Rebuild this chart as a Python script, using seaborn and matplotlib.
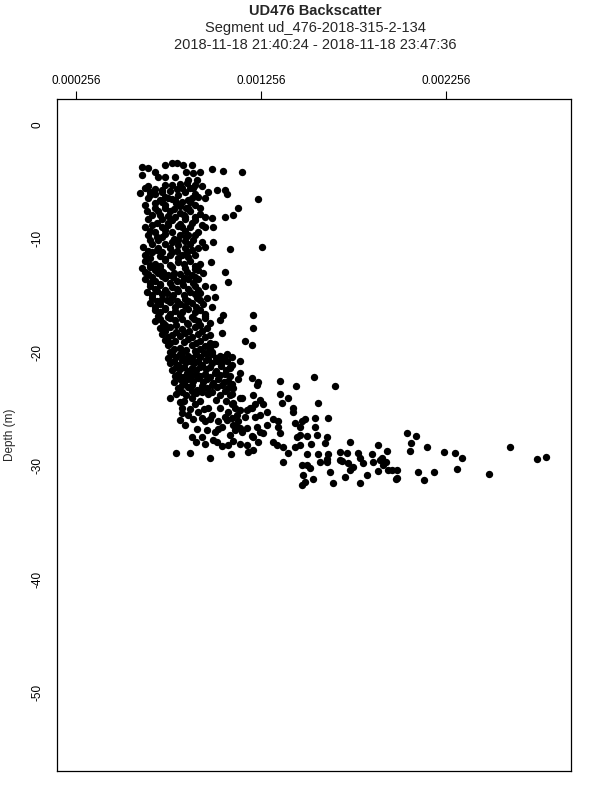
import numpy as np
import pandas as pd
import seaborn as sns
import matplotlib.pyplot as plt

# backscatter, in units of 1e-6; depth in metres (negative = down)

# shallow scattered points
top_bs = [613, 645, 683, 737, 775, 802, 834, 883, 850, 888, 926, 991, 1050, 1153,
          613, 699, 737, 791, 861, 910,
          602, 629, 645, 683, 721, 775, 829, 856, 888, 937, 969, 1018, 1061, 1072,
          645, 683, 753, 791, 829, 883, 915, 953]
top_depth = [-3.7, -3.8, -4.1, -3.5, -3.3, -3.3, -3.5, -3.5, -4.1, -4.2, -4.1, -3.9, -4.0, -4.1,
             -4.4, -4.6, -4.6, -4.6, -4.8, -4.8,
             -6.0, -5.5, -5.4, -6.1, -5.9, -5.3, -5.5, -5.1, -5.5, -5.4, -5.9, -5.7, -5.7, -6.1,
             -6.4, -6.9, -6.4, -6.6, -6.8, -6.4, -6.3, -6.4]

upper_bs = [640, 667, 645, 737, 764, 791, 861, 926, 845, 899, 953, 991, 1061, 1105, 1132,
            667, 683, 694, 753, 775, 829, 937, 953, 996,
            699, 737, 775, 807, 861, 888, 937, 996,
            618, 667, 721, 775, 829, 883, 953, 1088,
            1240, 1262]
upper_depth = [-7.6, -7.9, -8.3, -7.3, -7.6, -8.1, -7.3, -7.3, -8.1, -8.1, -8.1, -8.2, -8.1, -7.9, -7.3,
               -8.8, -9.4, -9.9, -8.8, -9.4, -9.0, -8.8, -9.0, -9.0,
               -10.1, -10.5, -10.3, -10.1, -9.7, -10.1, -10.3, -10.3,
               -10.7, -11.2, -11.2, -11.2, -11.4, -11.0, -10.7, -10.9,
               -6.5, -10.7]

upper_core_bs = [737, 818, 899,
                 656, 764, 845,
                 710, 775, 861,
                 629, 737, 818, 899,
                 699, 818, 872,
                 721, 775, 845, 899,
                 629, 721, 807, 872,
                 645, 737, 818, 899,
                 656, 845,
                 699, 764, 845, 915,
                 629, 710, 764, 899,
                 683, 721, 802, 872,
                 656, 737, 807, 899,
                 721, 797, 872,
                 683, 786, 850,
                 710, 753, 840, 926,
                 694, 753, 818, 883,
                 656, 737, 845, 915,
                 721, 786, 850,
                 667, 807, 872,
                 645, 694, 802, 856,
                 656, 737, 807, 861]
upper_core_depth = [-5.3, -5.2, -5.3,
                    -5.9, -5.8, -5.9,
                    -6.6, -6.5, -6.6,
                    -7.0, -7.0, -7.1, -7.0,
                    -7.6, -7.7, -7.6,
                    -8.3, -8.4, -8.3, -8.4,
                    -9.0, -9.0, -8.9, -9.0,
                    -9.7, -9.6, -9.7, -9.7,
                    -10.1, -10.2,
                    -10.8, -10.8, -10.8, -10.8,
                    -11.4, -11.5, -11.4, -11.4,
                    -5.6, -5.7, -5.6, -5.5,
                    -6.2, -6.3, -6.2, -6.1,
                    -6.8, -6.9, -6.8,
                    -7.3, -7.4, -7.3,
                    -7.9, -8.0, -7.9, -7.8,
                    -8.6, -8.6, -8.7, -8.6,
                    -9.3, -9.2, -9.3, -9.4,
                    -9.9, -10.0, -9.9,
                    -10.5, -10.6, -10.5,
                    -11.1, -11.0, -11.1, -11.2,
                    -11.7, -11.8, -11.7, -11.6]

mid_core_bs = [629, 683, 737, 807, 872, 926,
               613, 656, 710, 775, 845, 899,
               645, 699, 753, 818, 883, 942,
               629, 683, 737, 802, 861, 915,
               656, 710, 775, 834, 899,
               640, 694, 748, 807, 872, 926,
               667, 721, 775, 845, 910,
               656, 710, 764, 818, 883, 942,
               683, 737, 791, 861, 926,
               699, 753, 818, 883, 953,
               683, 726, 791, 856, 915, 980,
               710, 764, 829, 899, 964,
               721, 775, 845, 915, 980,
               737, 791, 861, 926,
               753, 818, 883, 953, 1002,
               764, 829, 899, 964,
               656, 710, 764, 840, 899,
               629, 683, 726, 786, 856, 915,
               667, 721, 780, 840, 899,
               656, 710, 764, 829, 888,
               683, 737, 802, 861, 915,
               667, 721, 780, 840, 899,
               694, 748, 802, 861, 926,
               683, 737, 791, 845, 904,
               710, 764, 829, 899, 953,
               710, 764, 829, 894, 953,
               737, 797, 861, 926,
               737, 797, 867, 937,
               753, 818, 883, 953,
               764, 840, 904, 980,
               786, 850, 926, 980]
mid_core_depth = [-12.0, -12.2, -11.9, -12.1, -12.0, -12.2,
                  -12.6, -12.5, -12.7, -12.5, -12.6, -12.7,
                  -13.1, -13.0, -13.2, -13.1, -13.2, -13.0,
                  -13.6, -13.7, -13.5, -13.7, -13.6, -13.6,
                  -14.2, -14.1, -14.3, -14.1, -14.2,
                  -14.7, -14.6, -14.8, -14.6, -14.7, -14.8,
                  -15.2, -15.3, -15.1, -15.3, -15.2,
                  -15.7, -15.8, -15.6, -15.8, -15.7, -15.8,
                  -16.3, -16.2, -16.4, -16.2, -16.3,
                  -16.8, -16.9, -16.7, -16.9, -16.8,
                  -17.3, -17.4, -17.2, -17.4, -17.3, -17.4,
                  -17.9, -17.8, -18.0, -17.8, -17.9,
                  -18.4, -18.5, -18.3, -18.4, -18.5,
                  -18.9, -19.0, -18.8, -19.0,
                  -19.4, -19.6, -19.4, -19.5, -19.3,
                  -20.0, -20.1, -19.9, -20.1,
                  -12.3, -12.4, -12.3, -12.2, -12.4,
                  -12.9, -12.8, -12.9, -13.0, -12.9, -12.8,
                  -13.4, -13.3, -13.4, -13.5, -13.4,
                  -13.9, -14.0, -13.9, -13.8, -13.9,
                  -14.4, -14.5, -14.4, -14.4, -14.5,
                  -15.0, -14.9, -15.0, -15.0, -14.9,
                  -15.5, -15.4, -15.5, -15.5, -15.4,
                  -16.0, -16.1, -16.0, -15.9, -16.0,
                  -16.5, -16.6, -16.5, -16.5, -16.6,
                  -17.1, -17.0, -17.1, -17.1, -17.0,
                  -17.6, -17.6, -17.5, -17.6,
                  -18.1, -18.2, -18.1, -18.1,
                  -18.7, -18.6, -18.7, -18.7,
                  -19.2, -19.1, -19.2, -19.2,
                  -19.7, -19.8, -19.7, -19.7]

mid_out_bs = [986, 1061, 1077, 953, 996, 964, 1007, 991, 1050, 1034,
              1213, 1213, 1045, 1170, 1207, 1007, 991, 1072, 1099]
mid_out_depth = [-12.1, -12.9, -13.8, -14.2, -14.3, -15.2, -15.1, -16.0, -16.7, -17.2,
                 -16.7, -17.9, -18.3, -19.0, -19.4, -19.3, -20.0, -20.2, -20.4]

low_core_bs = [753, 797, 840, 883, 926, 969, 1012, 1056,
               764, 807, 850, 894, 937, 991, 1045, 1099,
               775, 818, 861, 904, 958, 1012, 1067,
               791, 834, 883, 926, 980, 1034, 1088,
               786, 840, 888, 942, 996, 1056,
               807, 861, 910, 964, 1018, 1077,
               797, 850, 904, 969, 1034, 1099,
               775, 818, 861, 904, 948, 991, 1034,
               786, 829, 872, 915, 958, 1018, 1072,
               797, 840, 883, 926, 980, 1039, 1088,
               807, 856, 904, 953, 1007, 1061,
               818, 861, 915, 964, 1023, 1077,
               829, 883, 937, 991, 1045, 1099,
               829, 883, 937, 991, 1061]
low_core_depth = [-20.5, -20.4, -20.6, -20.5, -20.4, -20.6, -20.5, -20.4,
                  -21.0, -21.1, -20.9, -21.0, -21.1, -21.0, -20.9, -21.1,
                  -21.6, -21.5, -21.7, -21.6, -21.5, -21.7, -21.6,
                  -22.1, -22.2, -22.0, -22.1, -22.2, -22.0, -22.1,
                  -22.6, -22.7, -22.5, -22.6, -22.7, -22.6,
                  -23.2, -23.1, -23.3, -23.2, -23.1, -23.2,
                  -23.7, -23.8, -23.6, -23.7, -23.8, -23.7,
                  -20.2, -20.2, -20.3, -20.2, -20.1, -20.2, -20.3,
                  -20.8, -20.7, -20.8, -20.8, -20.7, -20.8, -20.8,
                  -21.3, -21.3, -21.4, -21.3, -21.3, -21.2, -21.3,
                  -21.9, -21.8, -21.9, -21.9, -21.8, -21.9,
                  -22.4, -22.4, -22.3, -22.4, -22.4, -22.5,
                  -22.9, -22.9, -23.0, -22.9, -22.9, -22.8,
                  -23.5, -23.4, -23.5, -23.5, -23.4]

low_bs = [764, 818, 829, 829, 883, 899, 915, 937, 953, 969,
          991, 1023, 1045, 1061, 1077, 1099, 1115, 1153, 1197, 1170,
          1132, 1126, 845, 910, 937, 883, 996, 1045, 1077, 1142,
          1180, 1207, 797, 872, 980, 1094, 1186,
          1142, 1142, 1132, 1207,
          861, 1007, 1088, 953, 1153, 818,
          840, 926, 1012, 1067,
          872, 948, 1034, 1142,
          888, 980, 1072, 1099,
          964, 1023, 1115,
          904, 1018, 1105]
low_depth = [-24.0, -24.4, -24.9, -25.4, -24.0, -24.6, -25.3, -25.8, -26.1, -24.9,
             -25.5, -26.1, -26.6, -25.7, -25.3, -24.6, -24.9, -24.0, -24.9, -25.7,
             -26.1, -26.6, -26.4, -26.8, -27.5, -27.5, -27.7, -28.3, -28.2, -28.1,
             -26.7, -27.4, -28.9, -28.9, -29.3, -29.0, -28.8,
             -20.8, -21.8, -22.4, -22.3,
             -25.5, -27.0, -27.3, -28.1, -27.0, -26.0,
             -24.3, -24.3, -24.2, -24.3,
             -25.0, -25.0, -24.9, -25.1,
             -25.9, -25.9, -26.0, -25.8,
             -26.9, -26.8, -26.9,
             -27.9, -27.9, -27.8]

bend_bs = [1088, 1240, 1235, 1359, 1445, 1543, 1656,
           1105, 1142, 1105, 1088, 1213, 1251, 1224, 1267, 1289,
           1359, 1402, 1370, 1429, 1429, 1564,
           1126, 1207, 1180, 1224, 1251,
           1105, 1142, 1321, 1348, 1289, 1235, 1251, 1267, 1213, 1240, 1180, 1213,
           1348, 1359, 1321, 1343, 1375, 1402,
           1440, 1467, 1478, 1494, 1548, 1548,
           1451, 1467, 1505, 1467, 1440, 1527, 1559, 1618, 1613, 1602,
           1375, 1505, 1478, 1505, 1483, 1494, 1537, 1521, 1564, 1618, 1575, 1613, 1629, 1645, 1710,
           1683, 1721, 1694, 1726, 1737, 1737, 1780, 1791, 1807, 1829, 1856, 1861, 1888, 1791, 1888,
           1937, 1899, 1915, 1964, 1991, 1991]
bend_depth = [-21.4, -22.6, -22.9, -22.5, -23.0, -22.2, -23.0,
              -23.2, -24.0, -24.5, -23.8, -23.8, -24.2, -24.6, -24.6, -25.3,
              -23.7, -24.0, -24.5, -24.9, -25.3, -24.5,
              -25.5, -24.9, -25.1, -25.7, -25.5,
              -26.4, -26.7, -25.9, -26.1, -26.4, -26.6, -27.0, -27.1, -27.5, -27.9, -28.2, -28.6,
              -26.6, -27.1, -27.9, -28.2, -28.4, -28.9,
              -26.2, -26.6, -26.1, -25.9, -25.8, -26.6,
              -27.5, -27.3, -27.4, -28.2, -28.4, -28.1, -27.3, -25.8, -27.5, -28.0,
              -29.7, -29.0, -29.9, -29.9, -30.8, -31.4, -31.2, -30.2, -29.0, -29.0, -29.7, -29.7, -30.6, -31.5, -31.0,
              -28.8, -28.9, -29.6, -29.8, -30.4, -27.9, -28.9, -29.3, -29.8, -30.8, -29.0, -29.7, -28.2, -31.5, -30.5,
              -28.7, -29.5, -29.9, -30.4, -30.4, -31.1]

tail_bs = [2043, 2094, 2066, 2061, 2152, 2247, 2307, 2341, 2602, 2746, 2796,
           2314, 2489, 2191, 2104, 2137, 1985, 1944, 1908, 1931, 1753, 1683, 1478, 1613]
tail_depth = [-27.1, -27.4, -28.0, -28.7, -28.4, -28.8, -28.9, -29.3, -28.4, -29.4, -29.2,
              -30.3, -30.7, -30.6, -30.6, -31.3, -31.2, -30.4, -29.3, -29.7, -30.1, -29.5, -31.7, -29.4]

x_ticks = [0.000256, 0.001256, 0.002256]
x_tick_labels = ['0.000256', '0.001256', '0.002256']
y_ticks = [0, -10, -20, -30, -40, -50]

bs_parts = [top_bs, upper_bs, upper_core_bs, mid_core_bs, mid_out_bs, low_core_bs, low_bs, bend_bs, tail_bs]
depth_parts = [top_depth, upper_depth, upper_core_depth, mid_core_depth, mid_out_depth,
               low_core_depth, low_depth, bend_depth, tail_depth]
data = pd.DataFrame({'backscatter': np.concatenate(bs_parts) * 1e-6,
                     'depth': np.concatenate(depth_parts)})

sns.set_style('white')
plt.rcParams['font.family'] = ['Liberation Sans', 'DejaVu Sans']

fig = plt.figure(figsize=(6, 8), dpi=100)
ax = fig.add_axes([57 / 600, 1 - 771 / 800, 514 / 600, 672 / 800])
sns.scatterplot(data=data, x='backscatter', y='depth', color='black', s=28, linewidth=0, ax=ax)

ax.set_xlim(0.0001533, 0.0029315)
ax.set_ylim(-56.9, 2.3)
ax.set_xticks(x_ticks)
ax.set_xticklabels(x_tick_labels)
ax.xaxis.tick_top()
ax.set_xlabel('')
ax.set_yticks(y_ticks)
ax.set_yticklabels([str(v) for v in y_ticks], rotation=90, va='center')
ax.tick_params(axis='x', direction='out', length=6, width=0.8, labelsize=8.5, pad=3, colors='black')
ax.tick_params(axis='y', direction='out', length=6, width=0.8, labelsize=8.5, pad=4, colors='black')
for sp in ax.spines.values():
    sp.set_linewidth(0.9)
    sp.set_color('black')
ax.set_ylabel('Depth (m)', fontsize=8.5)
ax.yaxis.set_label_coords(-0.080, 0.5)

fig.text(315 / 600, 1 - 11 / 800, 'UD476 Backscatter', ha='center', va='center', fontsize=10.5, fontweight='bold')
fig.text(315 / 600, 1 - 28 / 800, 'Segment ud_476-2018-315-2-134', ha='center', va='center', fontsize=10.5)
fig.text(315 / 600, 1 - 45 / 800, '2018-11-18 21:40:24 - 2018-11-18 23:47:36', ha='center', va='center', fontsize=10.5)

fig.savefig('out.png', dpi=100)
